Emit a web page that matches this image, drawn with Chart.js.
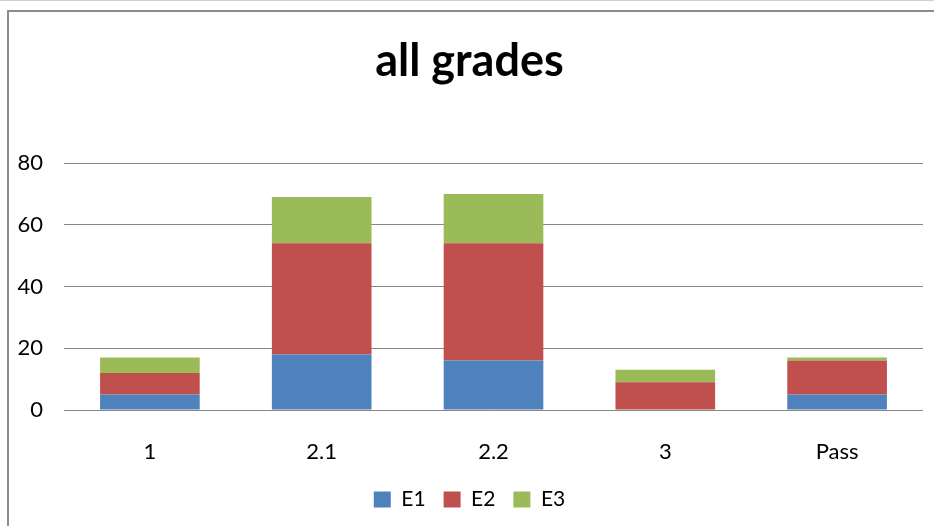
<!DOCTYPE html>
<html>
<head>
<meta charset="utf-8">
<script src="https://cdn.jsdelivr.net/npm/chart.js@4"></script>
<style>
  html, body { margin: 0; padding: 0; background: #fff; }
  body { width: 934px; height: 526px; overflow: hidden; position: relative; border-top: 1px solid #d0d0d0; box-sizing: border-box; }
  #frame { position: absolute; left: 7px; top: 9px; width: 1000px; height: 600px; border-left: 2px solid #8c8c8c; border-top: 2px solid #8c8c8c; pointer-events: none; }
  #wrap { position: absolute; left: 0; top: 0; width: 934px; height: 526px; }
</style>
</head>
<body>
<div id="wrap"><canvas id="chart" width="934" height="526"></canvas></div>
<div id="frame"></div>
<script>
// grades chart data
const categories = ["1", "2.1", "2.2", "3", "Pass"];
const e1 = [5, 18, 16, 0, 5];
const e2 = [7, 36, 38, 9, 11];
const e3 = [5, 15, 16, 4, 1];
const yTicks = [0, 20, 40, 60, 80];

const font = "Lato, 'Open Sans', sans-serif";

new Chart(document.getElementById("chart"), {
  type: "bar",
  data: {
    labels: categories,
    datasets: [
      { label: "E1", data: e1, backgroundColor: "#4F81BD" },
      { label: "E2", data: e2, backgroundColor: "#C0504D" },
      { label: "E3", data: e3, backgroundColor: "#9BBB59" }
    ]
  },
  options: {
    responsive: false,
    animation: false,
    layout: { padding: { left: 16, right: 11, top: 0, bottom: 7 } },
    datasets: { bar: { categoryPercentage: 0.58, barPercentage: 1, borderWidth: 0 } },
    scales: {
      x: {
        stacked: true,
        grid: { display: false, drawTicks: false },
        border: { display: false },
        ticks: { color: "#000", padding: 29, font: { family: font, size: 22 } },
        afterFit: (s) => { s.height = 61; }
      },
      y: {
        stacked: true,
        min: 0,
        max: 80,
        afterBuildTicks: (s) => { s.ticks = yTicks.map(v => ({ value: v })); },
        grid: { color: "#868686", lineWidth: 1, drawTicks: false },
        border: { display: false },
        ticks: { color: "#000", padding: 21, font: { family: font, size: 22 } },
        afterFit: (s) => { s.width = 48; }
      }
    },
    plugins: {
      title: {
        display: true,
        text: "all grades",
        color: "#000",
        font: { family: font, size: 45, weight: "bold" },
        padding: { top: 33, bottom: 75 }
      },
      legend: {
        position: "bottom",
        labels: {
          color: "#000",
          boxWidth: 17,
          boxHeight: 16,
          padding: 18,
          font: { family: font, size: 21 }
        }
      },
      tooltip: { enabled: false }
    }
  }
});
</script>
</body>
</html>
